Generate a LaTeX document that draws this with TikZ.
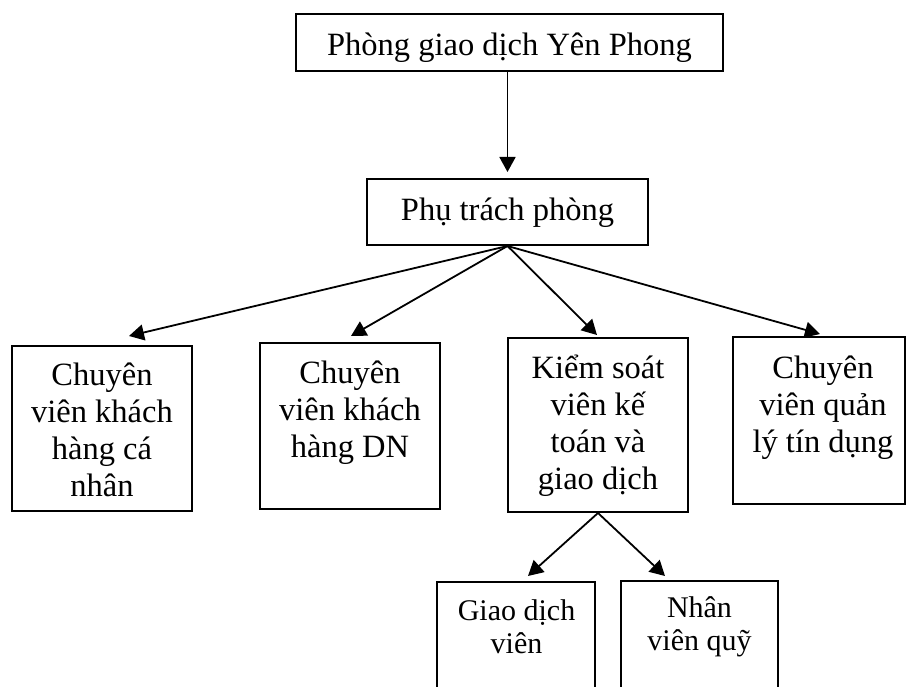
\documentclass[tikz,border=0pt]{standalone}
\usepackage{fontspec}
\setmainfont{Liberation Serif}
\usetikzlibrary{arrows.meta}
\newcommand\tstrut{\rule{0pt}{34pt}}
\begin{document}
\begin{tikzpicture}[x=1pt,y=-1pt,
  box/.style={draw,line width=2pt,inner sep=0pt},
  txt/.style={inner sep=0pt,align=center,anchor=north,font=\fontsize{32.5}{37}\selectfont},
  txts/.style={inner sep=0pt,align=center,anchor=north,font=\fontsize{30}{33}\selectfont},
  conn/.style={line width=1.8pt,-{Triangle[length=15pt,width=16pt]}}]
\useasboundingbox (0,0) rectangle (906,687);
\clip (0,0) rectangle (906,687);
% boxes
\node[box,minimum width=427pt,minimum height=57pt] (top) at (509.5,42.5) {};
\node[box,minimum width=281pt,minimum height=66pt] (mgr) at (507.5,212) {};
\node[box,minimum width=180pt,minimum height=165pt] (b1) at (102,428.5) {};
\node[box,minimum width=180pt,minimum height=166pt] (b2) at (350,426) {};
\node[box,minimum width=180pt,minimum height=174pt] (b3) at (598,425) {};
\node[box,minimum width=172pt,minimum height=167pt] (b4) at (819,420.5) {};
\node[box,minimum width=158pt,minimum height=138pt] (b5) at (516,651) {};
\node[box,minimum width=157pt,minimum height=139pt] (b6) at (699.5,650.5) {};
% texts
\node[txt] (t0) at (509.5,21) {\tstrut Phòng giao dịch Yên Phong};
\node[txt] (t1) at (507.5,186) {\tstrut Phụ trách phòng};
\node[txt] (tb1) at (102,351) {\tstrut Chuyên\\viên khách\\hàng cá\\nhân};
\node[txt] (tb2) at (350,349) {\tstrut Chuyên\\viên khách\\hàng DN};
\node[txt] (tb3) at (598,344) {\tstrut Kiểm soát\\viên kế\\toán và\\giao dịch};
\node[txt] (tb4) at (823,344) {\tstrut Chuyên\\viên quản\\lý tín dụng};
\node[txts] (tb5) at (516.5,586) {\tstrut Giao dịch\\viên};
\node[txts] (tb6) at (699.5,583) {\tstrut Nhân\\viên quỹ};
% connectors
\draw[conn] (top.south -| mgr.north) -- ([yshift=6pt]mgr.north);
\draw[conn] (mgr.south) -- ([xshift=27pt,yshift=9pt]b1.north);
\draw[conn] (mgr.south) -- ([xshift=1pt,yshift=6pt]b2.north);
\draw[conn] (mgr.south) -- ([xshift=-1pt,yshift=2pt]b3.north);
\draw[conn] (mgr.south) -- ([xshift=1pt,yshift=2pt]b4.north);
\draw[conn] (b3.south) -- ([xshift=12pt,yshift=5pt]b5.north);
\draw[conn] (b3.south) -- ([xshift=-34.5pt,yshift=4pt]b6.north);
\end{tikzpicture}
\end{document}
